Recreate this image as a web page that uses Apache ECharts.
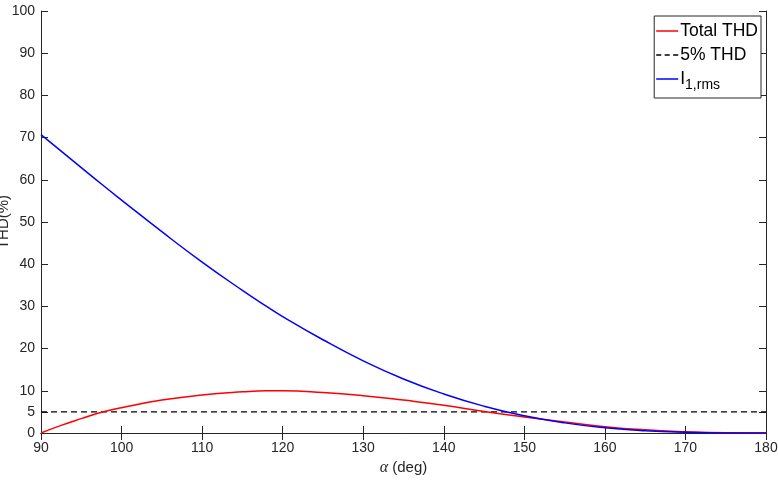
<!DOCTYPE html>
<html>
<head>
<meta charset="utf-8">
<script src="https://cdn.jsdelivr.net/npm/echarts@6/dist/echarts.min.js"></script>
<style>
  html, body { margin: 0; padding: 0; background: #fff; }
  #main { width: 778px; height: 484px; }
</style>
</head>
<body>
<div id="main"></div>
<script>
// firing angle, deg
var alphaList = [90, 92.5, 95, 97.5, 100, 105, 110, 115, 118, 120, 125, 130, 135, 140, 145, 150, 155, 160, 165, 170, 175, 180];
// total THD (%)
var thdList = [0, 1.8, 3.4, 4.9, 6.0, 7.8, 9.0, 9.75, 10.0, 10.0, 9.6, 8.85, 7.8, 6.6, 5.1, 3.8, 2.6, 1.5, 0.75, 0.3, 0.05, 0];
// fundamental rms current
var irmsList = [70.7, 66.8, 62.9, 59.0, 55.2, 47.7, 40.5, 33.8, 30.0, 27.6, 22.1, 17.1, 12.8, 9.25, 6.35, 4.08, 2.4, 1.25, 0.53, 0.16, 0.02, 0];
var limitX = [90, 180];
var limitY = [5, 5];
var yTicks = [0, 5, 10, 20, 30, 40, 50, 60, 70, 80, 90, 100];

function pairs(xs, ys) {
    return xs.map(function (x, i) { return [x, ys[i]]; });
}

var axisCol = '#262626';
var solidIcon = 'path://M0,0h22v1.5h-22z';
var dashIcon = 'path://M0,0h4.5v1.3h-4.5z M7.5,0h4.5v1.3h-4.5z M15,0h4.5v1.3h-4.5z';
var chart = echarts.init(document.getElementById('main'));

var option = {
    animation: false,
    grid: { left: 41, right: 12, top: 11, bottom: 51, outerBoundsMode: 'none', containLabel: false },
    legend: {
        right: 17,
        top: 16,
        orient: 'vertical',
        backgroundColor: '#fff',
        borderColor: axisCol,
        borderWidth: 1,
        borderRadius: 0,
        padding: [6, 3, 6, 2],
        itemGap: 6,
        itemWidth: 22,
        itemHeight: 1.5,
        data: [
            { name: 'Total THD', icon: solidIcon },
            { name: '5% THD', icon: dashIcon },
            { name: 'I1,rms', icon: solidIcon }
        ],
        formatter: function (name) {
            if (name === 'I1,rms') return '{m|I}{s|1,rms}';
            return '{m|' + name + '}';
        },
        textStyle: {
            color: '#000',
            fontFamily: 'Liberation Sans',
            fontSize: 17.5,
            padding: [0, 0, 0, -3],
            rich: {
                m: { fontSize: 17.5, lineHeight: 20, fontFamily: 'Liberation Sans', color: '#000' },
                s: { fontSize: 14, fontFamily: 'Liberation Sans', color: '#000', padding: [12, 0, 0, 0] }
            }
        }
    },
    xAxis: [
        {
            type: 'value', min: 90, max: 180, interval: 10,
            name: '{g|α} (deg)',
            nameLocation: 'middle', nameGap: 27, nameMoveOverlap: false,
            nameTextStyle: {
                color: axisCol, fontSize: 15, fontFamily: 'Liberation Sans',
                rich: { g: { fontFamily: 'Liberation Serif', fontStyle: 'italic', fontSize: 16, color: axisCol } }
            },
            axisLine: { lineStyle: { color: axisCol, width: 1 } },
            axisTick: { inside: true, length: 7, lineStyle: { color: axisCol } },
            axisLabel: { color: axisCol, fontSize: 14, fontFamily: 'Liberation Sans', margin: 8 },
            splitLine: { show: false }
        },
        {
            type: 'value', min: 90, max: 180, interval: 10, position: 'top',
            axisLine: { lineStyle: { color: axisCol, width: 1 } },
            axisTick: { inside: true, length: 7, lineStyle: { color: axisCol } },
            axisLabel: { show: false },
            splitLine: { show: false }
        }
    ],
    yAxis: [
        {
            type: 'value', min: 0, max: 100, interval: 10,
            name: 'THD(%)',
            nameLocation: 'middle', nameGap: 30, nameMoveOverlap: false,
            nameTextStyle: { color: axisCol, fontSize: 15, fontFamily: 'Liberation Sans' },
            axisLine: { show: true, lineStyle: { color: axisCol, width: 1 } },
            axisTick: { inside: true, length: 7, customValues: yTicks, lineStyle: { color: axisCol } },
            axisLabel: { color: axisCol, fontSize: 14, fontFamily: 'Liberation Sans', margin: 6, customValues: yTicks },
            splitLine: { show: false }
        },
        {
            type: 'value', min: 0, max: 100, interval: 10, position: 'right',
            axisLine: { show: true, lineStyle: { color: axisCol, width: 1 } },
            axisTick: { show: true, inside: true, length: 7, customValues: yTicks, lineStyle: { color: axisCol } },
            axisLabel: { show: false },
            splitLine: { show: false }
        }
    ],
    series: [
        {
            name: 'Total THD', type: 'line', symbol: 'none', smooth: true,
            data: pairs(alphaList, thdList),
            lineStyle: { color: '#ff0000', width: 1.5 },
            itemStyle: { color: '#ff0000' },
            z: 3
        },
        {
            name: '5% THD', type: 'line', symbol: 'none',
            data: pairs(limitX, limitY),
            lineStyle: { color: '#000', width: 1.3, type: [6, 4] },
            itemStyle: { color: '#000' },
            z: 2
        },
        {
            name: 'I1,rms', type: 'line', symbol: 'none', smooth: true,
            data: pairs(alphaList, irmsList),
            lineStyle: { color: '#0000ff', width: 1.5 },
            itemStyle: { color: '#0000ff' },
            z: 4
        }
    ]
};

chart.setOption(option);
</script>
</body>
</html>
